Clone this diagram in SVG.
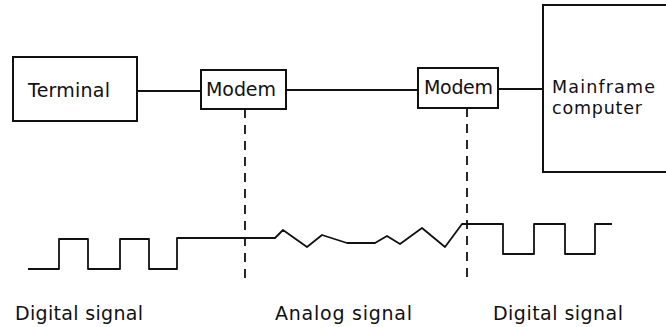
<svg xmlns="http://www.w3.org/2000/svg" width="666" height="327" viewBox="0 0 666 327">
<style>
.box{fill:#fff;stroke:#111;stroke-width:2}
.ln{fill:none;stroke:#111;stroke-width:1.8;stroke-linejoin:round}
.dash{fill:none;stroke:#111;stroke-width:1.8;stroke-dasharray:9,7}
text{font-family:"DejaVu Sans","Liberation Sans",sans-serif;font-size:19px;fill:#111}
.sm{font-size:17.5px}
</style>
<rect width="666" height="327" fill="#fff"/>
<g id="connectors">
<path class="ln" d="M137,91 H201"/>
<path class="ln" d="M286,90 H418"/>
<path class="ln" d="M498,89 H543"/>
<path class="dash" d="M245,109 V280"/>
<path class="dash" d="M467,108 V279"/>
</g>
<g id="terminal">
<rect class="box" x="13" y="57" width="124" height="64"/>
<text x="28" y="97" textLength="82">Terminal</text>
</g>
<g id="modem1">
<rect class="box" x="201" y="70" width="85" height="39"/>
<text x="206" y="96" textLength="70">Modem</text>
</g>
<g id="modem2">
<rect class="box" x="418" y="68" width="80" height="40"/>
<text x="424" y="94" textLength="69">Modem</text>
</g>
<g id="mainframe">
<rect class="box" x="543" y="5" width="130" height="167"/>
<text class="sm" x="552" y="93" textLength="103">Mainframe</text>
<text class="sm" x="552" y="114" textLength="90">computer</text>
</g>
<g id="signal">
<path class="ln" d="M28,269 H59 V239 H88 V269 H120 V239 H149 V269 H177 V238 H275 L283,230 L307,247 L322,235 L347,243 H375 L387,236 L400,244 L422,228 L445,247 L462,224 H503 V254 H534 V224 H565 V254 H595 V224 H612"/>
</g>
<g id="labels">
<text x="15" y="320" textLength="128">Digital signal</text>
<text x="275" y="320" textLength="137">Analog signal</text>
<text x="493" y="320" textLength="130">Digital signal</text>
</g>
</svg>
